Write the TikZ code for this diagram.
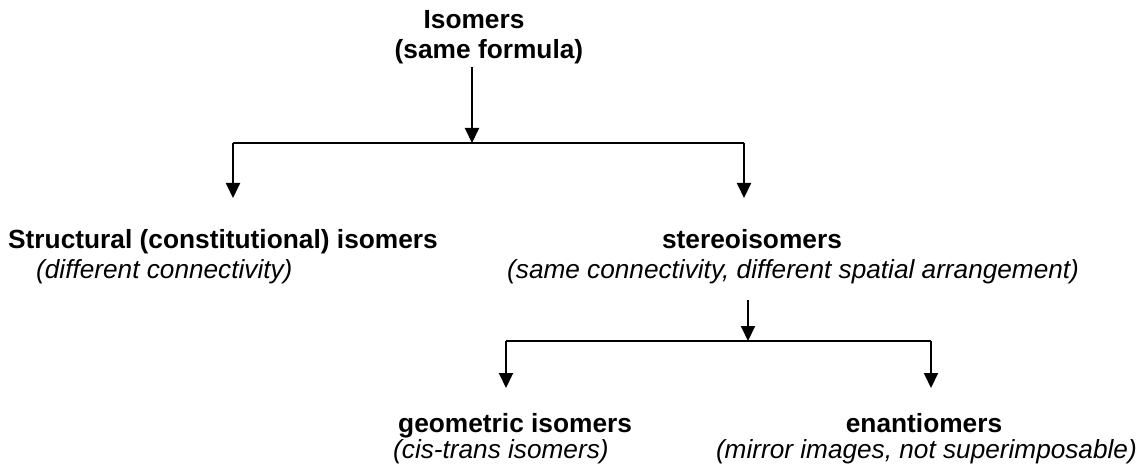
\documentclass[tikz,border=0pt]{standalone}
\usepackage{fontspec}
\setmainfont{Liberation Sans}
\usetikzlibrary{arrows.meta}
\begin{document}
\begin{tikzpicture}[x=1pt,y=-1pt,
  ttl/.style={font=\fontsize{26.3}{30}\selectfont\bfseries, inner sep=0pt, anchor=base},
  sub/.style={font=\fontsize{26.2}{30}\selectfont\itshape, inner sep=0pt, anchor=base},
  conn/.style={line width=2pt},
  arr/.style={line width=2pt, -{Triangle[width=14pt,length=15pt]}}]
\useasboundingbox (0,0) rectangle (1146,465);
% top
\node[ttl] (iso) at (474,29) {Isomers};
\node[ttl] (isof) at (489,59) {(same formula)};
\coordinate (s1) at (472,67);
\coordinate (j1) at (472,143);
\coordinate (l1) at (233,143);
\coordinate (r1) at (744,143);
\draw[arr] (s1) -- (j1);
\draw[conn] (l1) -- (r1);
% level 2
\node[ttl, anchor=base west] (struct) at (8,249) {Structural (constitutional) isomers};
\node[sub, anchor=base west] (structs) at (36,278) {(different connectivity)};
\node[ttl] (stereo) at (752,249) {stereoisomers};
\node[sub, anchor=base west] (stereos) at (507,278) {(same connectivity, different spatial arrangement)};
\coordinate (la) at (233,198);
\coordinate (ra) at (744,198);
\draw[arr] (l1) -- (la);
\draw[arr] (r1) -- (ra);
% level 3
\coordinate (s2) at (748,300);
\coordinate (j2) at (748,341);
\coordinate (l2) at (506,341);
\coordinate (r2) at (931,341);
\draw[arr] (s2) -- (j2);
\draw[conn] (l2) -- (r2);
\coordinate (lb) at (506,388);
\coordinate (rb) at (931,388);
\draw[arr] (l2) -- (lb);
\draw[arr] (r2) -- (rb);
\node[ttl, anchor=base west] (geo) at (398,432) {geometric isomers};
\node[sub, anchor=base west] (geos) at (393,458) {(cis-trans isomers)};
\node[ttl] (enan) at (924,432) {enantiomers};
\node[sub, anchor=base east] (enans) at (1137,458) {(mirror images, not superimposable)};
\end{tikzpicture}
\end{document}
